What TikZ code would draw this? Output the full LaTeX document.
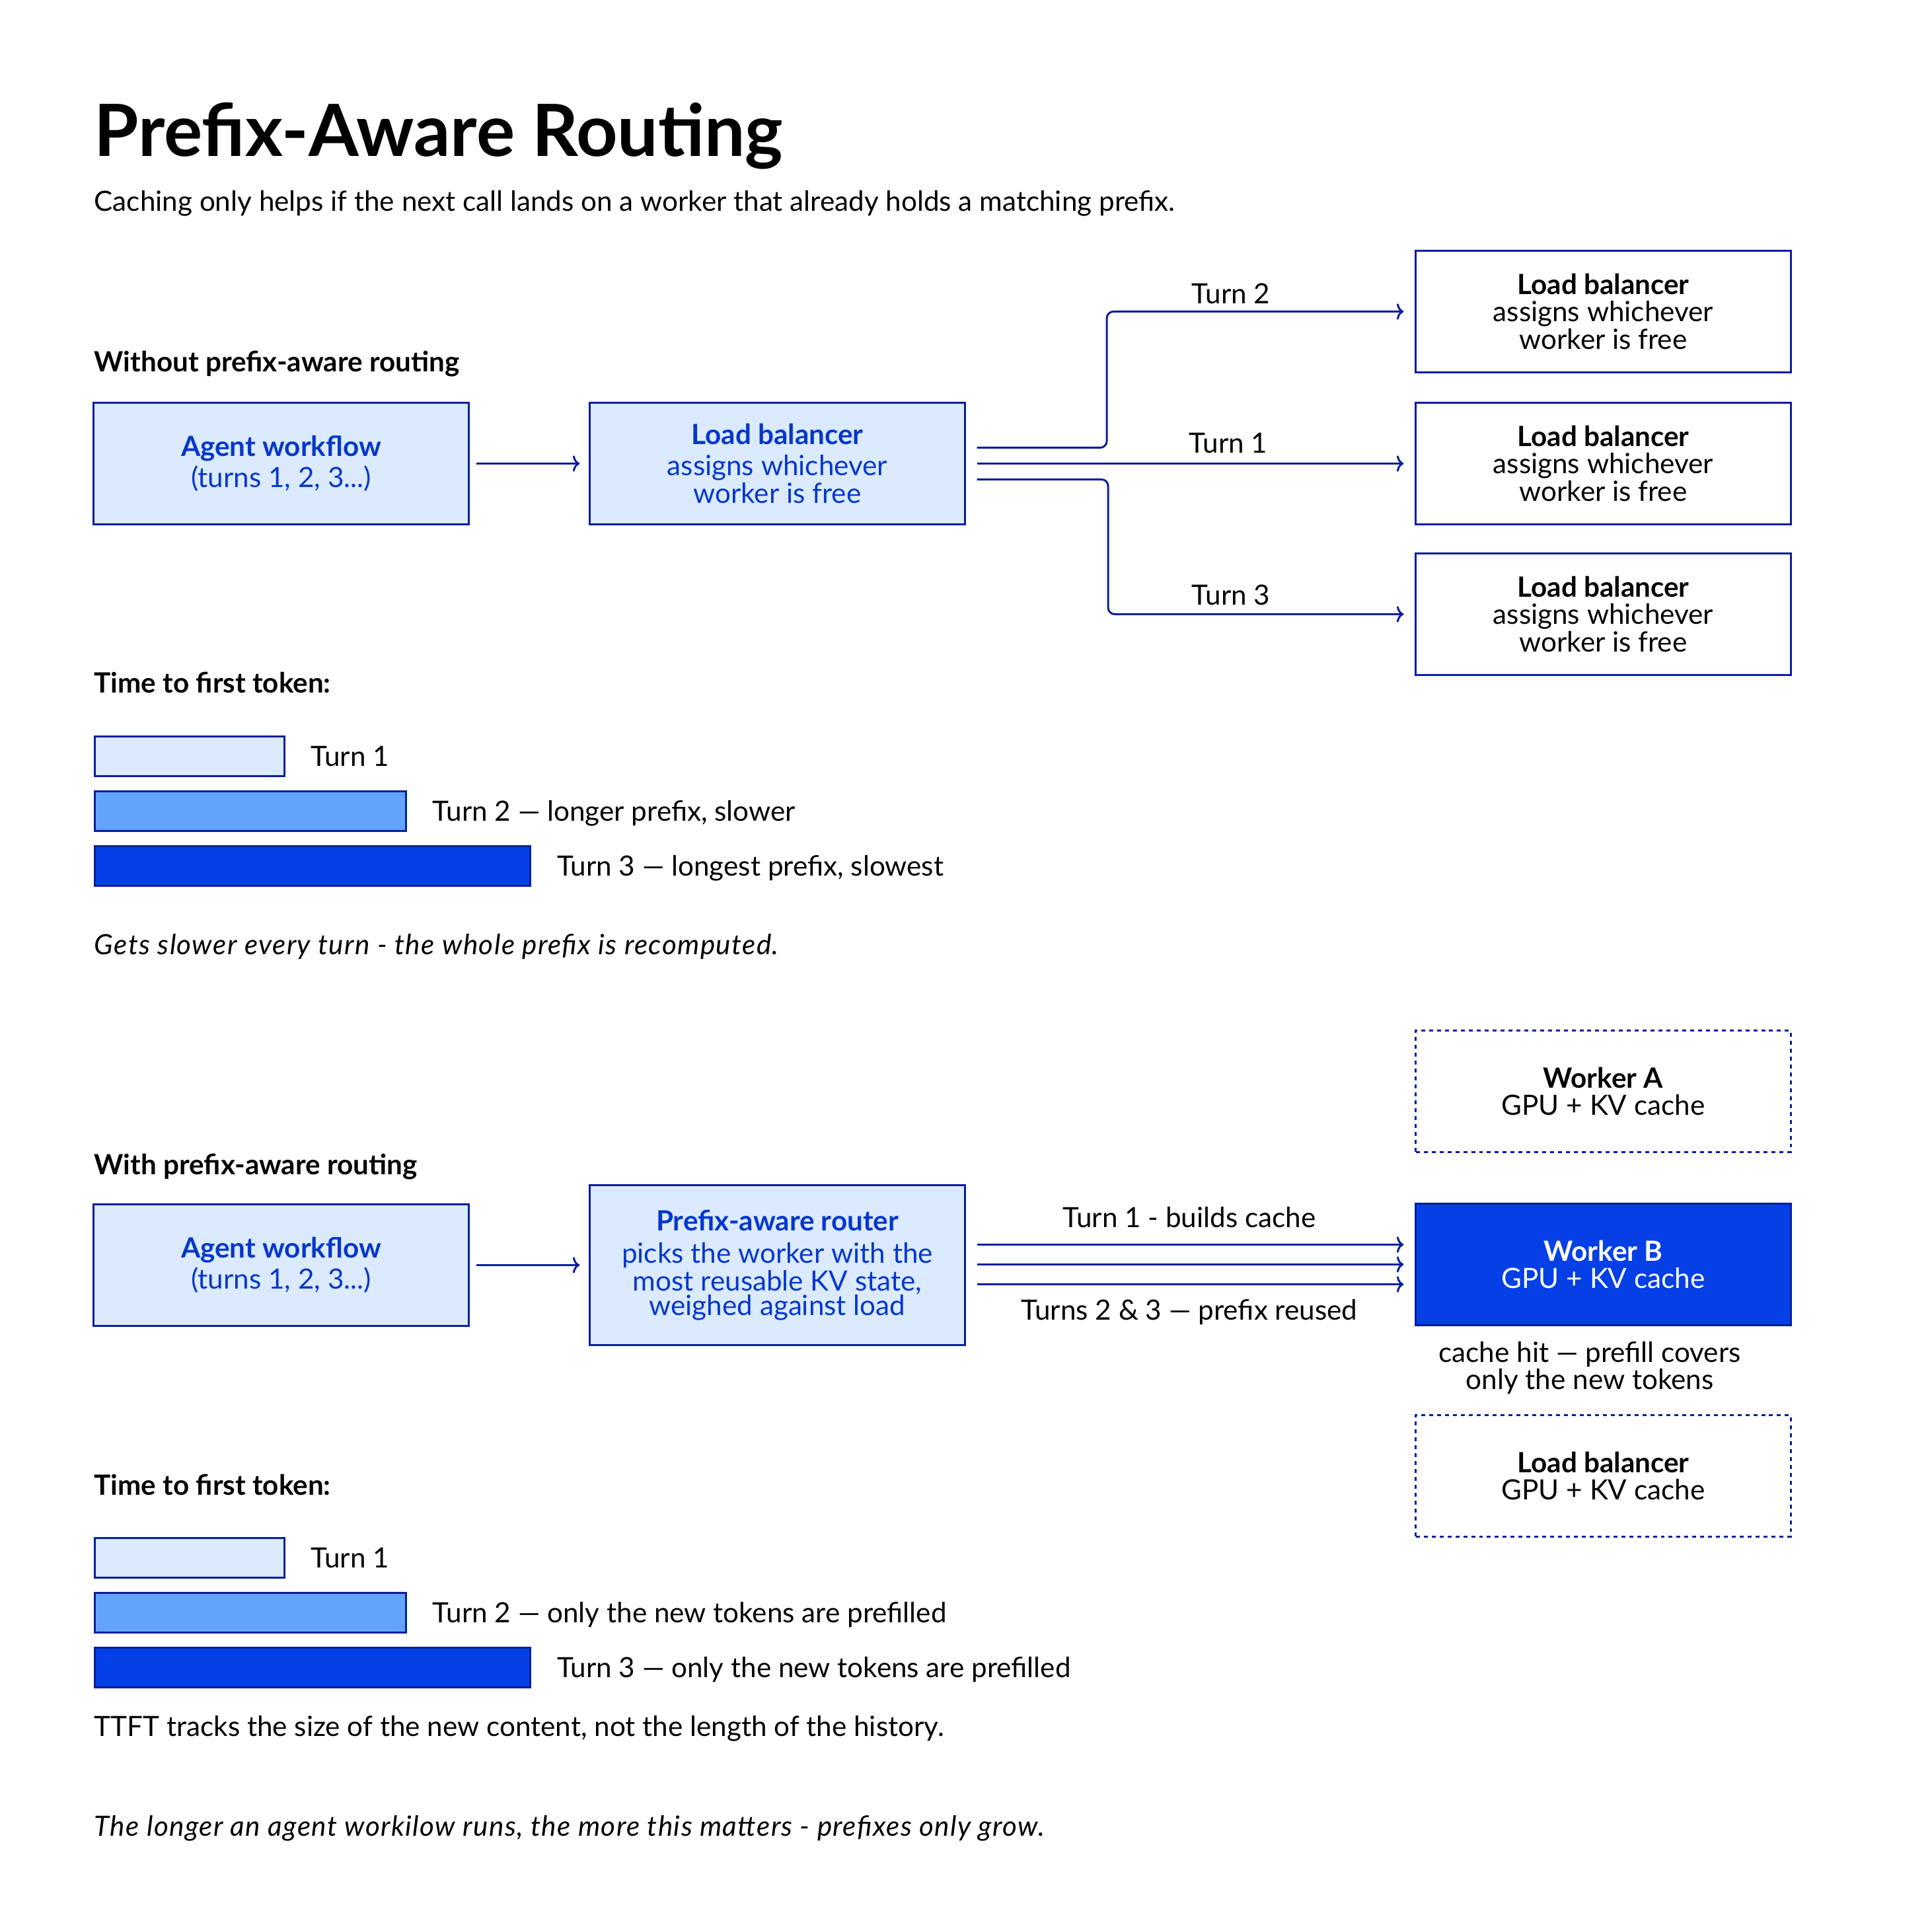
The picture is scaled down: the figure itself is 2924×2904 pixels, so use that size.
\documentclass[tikz,border=0pt]{standalone}
\usepackage{fontspec}
\setmainfont{Lato}
\newfontfamily\notefont{Lato}[LetterSpace=3.4]
\usetikzlibrary{positioning,arrows.meta}

\definecolor{navy}{HTML}{0B1E9C}
\definecolor{paleblue}{HTML}{DBEAFE}
\definecolor{midblue}{HTML}{62A4FC}
\definecolor{royal}{HTML}{0540E6}
\definecolor{inkblue}{HTML}{0537CC}

\tikzset{
  txt/.style={inner sep=0pt, font=\fontsize{12}{10.5}\selectfont},
  head/.style={txt, anchor=base west, font=\fontsize{12}{10.5}\selectfont\bfseries},
  note/.style={txt, anchor=base west, font=\fontsize{12}{10.5}\selectfont\notefont\itshape},
  box/.style={draw=navy, line width=0.85pt, minimum width=5.67cm, minimum height=1.83cm,
    inner sep=0pt, align=center, font=\fontsize{12}{10.5}\selectfont},
  bluebox/.style={box, fill=paleblue, text=inkblue},
  plainbox/.style={box, fill=white},
  dotbox/.style={box, dash pattern=on 1.7pt off 1.7pt},
  bar/.style={draw=navy, line width=0.85pt, minimum height=0.6cm, inner sep=0pt, anchor=north west},
  barlbl/.style={txt, anchor=west, text height=8.6pt, text depth=0pt},
  flow/.style={draw=navy, line width=0.85pt, -{To[length=3pt,width=7pt]}, shorten >=0.17cm},
}

\begin{document}
\begin{tikzpicture}[x=0.01cm, y=-0.01cm]
\useasboundingbox (0,0) rectangle (2924,2904);

% heading
\node[anchor=base west, inner sep=0pt, font=\fontsize{31}{32}\selectfont\bfseries] (title) at (142,237) {Prefix-Aware Routing};
\node[txt, anchor=base west] (subtitle) at (142,320) {Caching only helps if the next call lands on a worker that already holds a matching prefix.};

% without prefix-aware routing
\node[head] (without) at (142,563) {Without prefix-aware routing};
\node[bluebox] (agentA) at (425.5,701.5) {\textbf{Agent workflow}\\[1pt](turns 1, 2, 3...)};
\node[bluebox] (lbA) at (1176.5,701.5) {\textbf{Load balancer}\\[3pt]assigns whichever\\worker is free};
\node[plainbox] (lbTwo) at (2426.5,471.5) {\textbf{Load balancer}\\[1pt]assigns whichever\\worker is free};
\node[plainbox] (lbOne) at (2426.5,701.5) {\textbf{Load balancer}\\[1pt]assigns whichever\\worker is free};
\node[plainbox] (lbThree) at (2426.5,929.5) {\textbf{Load balancer}\\[1pt]assigns whichever\\worker is free};

\draw[flow, shorten <=0.1cm, shorten >=0.14cm] (agentA) -- (lbA);
\draw[flow, rounded corners=0.1cm] ([xshift=0.17cm,yshift=0.24cm]lbA.east) -| ([xshift=-4.66cm]lbTwo.west) -- (lbTwo.west);
\draw[flow] ([xshift=0.17cm]lbA.east) -- (lbOne.west);
\draw[flow, rounded corners=0.1cm] ([xshift=0.17cm,yshift=-0.24cm]lbA.east) -| ([xshift=-4.64cm]lbThree.west) -- (lbThree.west);

\node[txt, anchor=base] (turnTwo) at (1863,460) {Turn 2};
\node[txt, anchor=base] (turnOne) at (1859,686) {Turn 1};
\node[txt, anchor=base] (turnThree) at (1863,916) {Turn 3};

% time to first token, no cache reuse
\node[head] (ttftA) at (142,1048) {Time to first token:};
\foreach \w/\c/\t [count=\i] in {2.87/paleblue/{Turn 1}, 4.71/midblue/{Turn 2 — longer prefix, slower}, 6.59/royal/{Turn 3 — longest prefix, slowest}}
{
  \node[bar, fill=\c, minimum width=\w cm] (barA\i) at (142,{1030+83*\i}) {};
  \node[barlbl, right=0.38cm of barA\i] (labA\i) {\t};
}
\node[note] (slowerA) at (142,1444) {Gets slower every turn - the whole prefix is recomputed.};

% with prefix-aware routing
\node[head] (with) at (142,1777) {With prefix-aware routing};
\node[bluebox] (agentB) at (425.5,1914.5) {\textbf{Agent workflow}\\[1pt](turns 1, 2, 3...)};
\node[bluebox, minimum height=2.41cm] (router) at (1176.5,1914.5) {\textbf{Prefix-aware router}\\[3.5pt]picks the worker with the\\most reusable KV state,\\weighed against load};
\node[dotbox] (workerA) at (2426.5,1651.5) {\textbf{Worker A}\\[1pt]GPU + KV cache};
\node[box, fill=royal, text=white] (workerB) at (2426.5,1913.5) {\textbf{Worker B}\\[1pt]GPU + KV cache};
\node[dotbox] (workerC) at (2426.5,2233.5) {\textbf{Load balancer}\\[1pt]GPU + KV cache};

\draw[flow, shorten <=0.1cm, shorten >=0.14cm] (agentB) -- (router);
\foreach \dy in {0.3cm,0cm,-0.3cm}
  \draw[flow, shorten <=0.17cm] ([yshift=\dy]workerB.west -| router.east) -- ([yshift=\dy]workerB.west);

\node[txt, anchor=base] (buildLbl) at (1800,1857) {Turn 1 - builds cache};
\node[txt, anchor=base] (reuseLbl) at (1800,1997) {Turns 2 \& 3 — prefix reused};
\node[txt, align=center] (hitLbl) at (2406,2070) {cache hit — prefill covers\\only the new tokens};

% time to first token, prefix reused
\node[head] (ttftB) at (142,2262) {Time to first token:};
\foreach \w/\c/\t [count=\i] in {2.87/paleblue/{Turn 1}, 4.71/midblue/{Turn 2 — only the new tokens are prefilled}, 6.59/royal/{Turn 3 — only the new tokens are prefilled}}
{
  \node[bar, fill=\c, minimum width=\w cm] (barB\i) at (142,{2243+83*\i}) {};
  \node[barlbl, right=0.38cm of barB\i] (labB\i) {\t};
}
\node[txt, anchor=base west] (ttftNote) at (142,2627) {TTFT tracks the size of the new content, not the length of the history.};
\node[note] (closing) at (142,2778) {The longer an agent workilow runs, the more this matters - prefixes only grow.};
\end{tikzpicture}
\end{document}
